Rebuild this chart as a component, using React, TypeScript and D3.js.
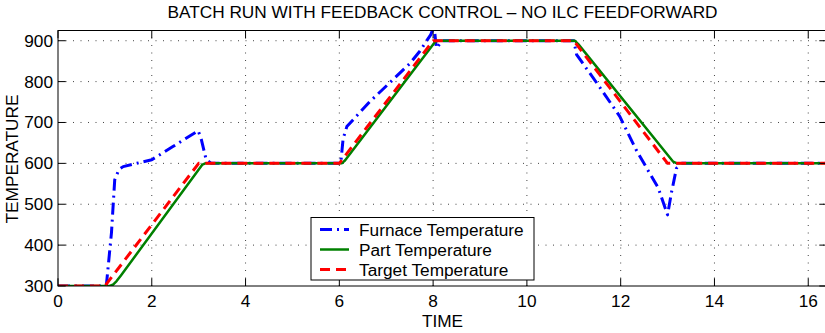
import React, { useRef, useEffect } from "react"
import * as d3 from "d3"

// furnace temperature (blue dash-dot)
const furnaceTime = [0, 1.03, 1.14, 1.21, 1.3, 1.39, 1.6, 2.0, 2.45, 2.99, 3.06, 3.16, 3.27, 6.03, 6.08, 6.16, 6.65, 7.1, 7.51, 7.72, 7.95, 8.02, 8.07, 8.2, 11.0, 11.06, 11.5, 11.98, 12.33, 12.8, 13.0, 13.08, 13.19, 13.3, 16.5]
const furnaceTemp = [300, 300, 430, 560, 585, 592, 598, 609, 641, 680, 657, 609, 600, 600, 660, 690, 751, 800, 845, 875, 915, 935, 882, 900, 900, 866, 795, 715, 633, 540, 474, 527, 588, 600, 600]

// part temperature (green solid)
const partTime = [0, 1.1, 1.17, 1.25, 1.35, 3.08, 3.14, 6.05, 6.12, 8.04, 8.1, 11.02, 11.1, 13.12, 13.2, 16.5]
const partTemp = [300, 300, 303, 312, 327, 597, 600, 600, 607, 897, 900, 900, 891, 604, 600, 600]

// target temperature (red dashed)
const targetTime = [0, 1, 3, 6, 8, 11, 13, 16.5]
const targetTemp = [300, 300, 600, 600, 900, 900, 600, 600]

const xTicks = [0, 2, 4, 6, 8, 10, 12, 14, 16]
const yTicks = [300, 400, 500, 600, 700, 800, 900]
const legendLabels = ["Furnace Temperature", "Part Temperature", "Target Temperature"]

const App = () => {
  const svgRef = useRef(null)

  useEffect(() => {
    const svgWidth = 825
    const svgHeight = 333
    const left = 58
    const right = 827
    const top = 30.5
    const bottom = 286
    const font = "'Liberation Sans', Arial, sans-serif"
    const fs = 17.25

    const svg = d3.select(svgRef.current).attr("width", svgWidth).attr("height", svgHeight)
    svg.selectAll("*").remove()

    svg.append("rect").attr("width", svgWidth).attr("height", svgHeight).attr("fill", "#fff")

    const x = d3.scaleLinear().domain([0, 16.4]).range([left, right])
    const y = d3.scaleLinear().domain([300, 925]).range([bottom, top])

    // grid
    const grid = svg.append("g").attr("stroke", "#444").attr("stroke-width", 1).attr("stroke-dasharray", "1,6.5")
    grid.selectAll(".vg").data(xTicks.filter((d) => d > 0)).enter().append("line")
      .attr("x1", (d) => x(d)).attr("x2", (d) => x(d)).attr("y1", bottom).attr("y2", top)
    grid.selectAll(".hg").data(yTicks.filter((d) => d > 300)).enter().append("line")
      .attr("x1", left).attr("x2", right).attr("y1", (d) => y(d)).attr("y2", (d) => y(d))

    svg.append("clipPath").attr("id", "plot-clip").append("rect")
      .attr("x", left).attr("y", top).attr("width", right - left).attr("height", bottom - top)

    const lines = svg.append("g").attr("clip-path", "url(#plot-clip)")
    const line = d3.line<number>().x((d) => d[0]).y((d) => d[1])
    const series = [
      { t: furnaceTime, v: furnaceTemp, color: "#0000ff", width: 3, dash: "12,5,2,5" },
      { t: partTime, v: partTemp, color: "#008000", width: 2.5, dash: null },
      { t: targetTime, v: targetTemp, color: "#ff0000", width: 3, dash: "10,6" }
    ]
    series.forEach((s) => {
      const pts = s.t.map((t, i) => [x(t), y(s.v[i])])
      lines.append("path")
        .attr("d", line(pts))
        .attr("fill", "none")
        .attr("stroke", s.color)
        .attr("stroke-width", s.width)
        .attr("stroke-linejoin", "round")
        .attr("stroke-dasharray", s.dash)
    })

    // axes box
    const axes = svg.append("g").attr("stroke", "#000").attr("stroke-width", 1)
    axes.append("rect").attr("x", left).attr("y", top).attr("width", right - left).attr("height", bottom - top).attr("fill", "none")
    const tl = 7.7
    xTicks.forEach((d) => {
      axes.append("line").attr("x1", x(d)).attr("x2", x(d)).attr("y1", bottom).attr("y2", bottom - tl)
      axes.append("line").attr("x1", x(d)).attr("x2", x(d)).attr("y1", top).attr("y2", top + tl)
    })
    yTicks.forEach((d) => {
      axes.append("line").attr("x1", left).attr("x2", left + tl).attr("y1", y(d)).attr("y2", y(d))
      axes.append("line").attr("x1", right).attr("x2", right - tl).attr("y1", y(d)).attr("y2", y(d))
    })

    const text = svg.append("g").attr("font-family", font).attr("font-size", fs).attr("fill", "#000")
    text.selectAll(".xl").data(xTicks).enter().append("text")
      .attr("x", (d) => x(d)).attr("y", 306.5).attr("text-anchor", "middle").text((d) => d)
    text.selectAll(".yl").data(yTicks).enter().append("text")
      .attr("x", 53).attr("y", (d) => y(d) + 6).attr("text-anchor", "end").text((d) => d)

    text.append("text").attr("x", (left + right) / 2).attr("y", 17.5).attr("text-anchor", "middle")
      .text("BATCH RUN WITH FEEDBACK CONTROL \u2013 NO ILC FEEDFORWARD")
    text.append("text").attr("x", (left + right) / 2).attr("y", 326.5).attr("text-anchor", "middle").text("TIME")
    text.append("text").attr("transform", "translate(18.3,159) rotate(-90)").attr("text-anchor", "middle").text("TEMPERATURE")

    // legend
    const legend = svg.append("g")
    legend.append("rect").attr("x", 311).attr("y", 217.5).attr("width", 223).attr("height", 62.5)
      .attr("fill", "#fff").attr("stroke", "#000").attr("stroke-width", 1)
    series.forEach((s, i) => {
      const ly = 229.5 + i * 20
      legend.append("line").attr("x1", 320).attr("x2", 349).attr("y1", ly).attr("y2", ly)
        .attr("stroke", s.color).attr("stroke-width", s.width).attr("stroke-dasharray", s.dash)
      legend.append("text").attr("x", 359).attr("y", ly + 6).attr("font-family", font).attr("font-size", fs)
        .text(legendLabels[i])
    })
  }, [])

  return (
    <div>
      <svg ref={svgRef} style={{ position: "absolute", left: 0, top: 0 }}></svg>
    </div>
  )
}

export default App
